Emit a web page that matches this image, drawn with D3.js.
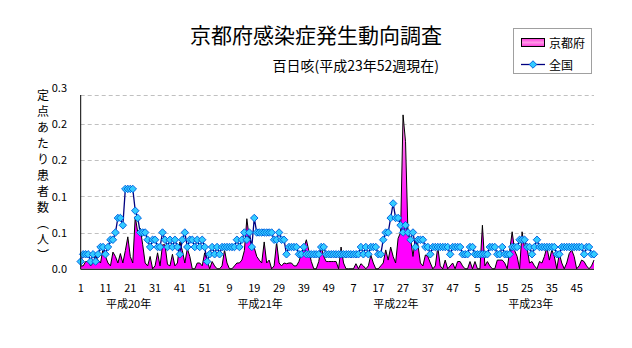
<!DOCTYPE html>
<html><head><meta charset="utf-8">
<script src="https://cdn.jsdelivr.net/npm/d3@7"></script>
<style>
body{margin:0;background:#fff}
svg{display:block}
text{font-family:"Noto Sans CJK JP","Noto Sans",sans-serif;fill:#000}
</style>
</head><body>
<svg id="chart" width="632" height="348"></svg>
<script>
// ---- data ----
const years = ["平成20年","平成21年","平成22年","平成23年"];
const weeksPerYear = [52,52,52,52];
const yearLabelWeek = [20.3, 21.4, 24.1, 26.5];
const yTicks = [0, 0.05, 0.10, 0.15, 0.20, 0.25];
const yTickLabels = ["0.0","0.1","0.1","0.2","0.2","0.3"];
const yPlotMax = 0.239;
const seriesNames = ["京都府","全国"];

const kyoto2008 = [0.004,0.004,0.01,0.01,0.004,0.008,0.017,0.012,0.008,0.028,0.017,0.008,0.004,0.023,0.017,0.008,0.021,0.008,0.025,0.044,0.017,0.008,0.072,0.05,0.056,0.033,0.008,0.004,0.017,0,0.004,0.022,0.004,0.033,0.033,0.006,0.004,0.02,0.004,0.008,0.037,0.025,0.008,0.028,0.017,0,0,0.008,0.008,0.004,0.022,0.012];
const kyoto2009 = [0,0.01,0.004,0,0,0.004,0.026,0.008,0,0,0.004,0.008,0.008,0.012,0.025,0.069,0.042,0.033,0.029,0.017,0.012,0.008,0.037,0.008,0.012,0,0.004,0.037,0.008,0.004,0.008,0.007,0.008,0.008,0.004,0.004,0.01,0.021,0.029,0.04,0.025,0.01,0,0,0.01,0.03,0.017,0.01,0.01,0.01,0.01,0.01];
const kyoto2010 = [0,0.03,0.008,0,0,0,0,0.007,0,0.007,0.004,0,0.004,0.019,0.008,0,0,0.004,0.008,0.026,0.012,0.03,0.017,0.008,0.042,0.05,0.212,0.175,0.046,0.042,0.017,0.042,0.033,0.008,0.004,0.019,0.017,0.008,0,0.004,0.03,0.004,0,0.012,0,0.004,0.008,0,0.01,0.01,0.004,0];
const kyoto2011 = [0,0.01,0,0.01,0,0,0.06,0.004,0.01,0.004,0,0,0.012,0.012,0.012,0.008,0,0.025,0.051,0.025,0.017,0,0.051,0.029,0.029,0.008,0.01,0.004,0,0.01,0.008,0.017,0.03,0.012,0.026,0.017,0,0.021,0.008,0,0.008,0.021,0.026,0.017,0,0.004,0.012,0.01,0.004,0,0.004,0.012];

const national2008 = [0.01,0.02,0.02,0.02,0.01,0.02,0.01,0.02,0.03,0.03,0.02,0.03,0.04,0.04,0.05,0.07,0.07,0.06,0.11,0.11,0.11,0.11,0.08,0.07,0.05,0.05,0.05,0.04,0.03,0.04,0.04,0.03,0.03,0.05,0.04,0.03,0.04,0.03,0.04,0.03,0.02,0.04,0.05,0.03,0.04,0.04,0.03,0.04,0.03,0.04,0.03,0.01];
const national2009 = [0.02,0.03,0.02,0.03,0.02,0.03,0.03,0.03,0.03,0.03,0.03,0.04,0.03,0.04,0.05,0.04,0.05,0.03,0.07,0.05,0.05,0.05,0.05,0.05,0.05,0.05,0.04,0.04,0.05,0.04,0.04,0.02,0.03,0.03,0.03,0.03,0.02,0.02,0.03,0.02,0.02,0.02,0.02,0.02,0.02,0.03,0.03,0.02,0.02,0.02,0.02,0.02];
const national2010 = [0.02,0.02,0.02,0.02,0.02,0.02,0.02,0.02,0.02,0.03,0.02,0.03,0.02,0.03,0.03,0.03,0.02,0.02,0.04,0.05,0.05,0.07,0.09,0.07,0.07,0.06,0.05,0.06,0.05,0.04,0.05,0.03,0.04,0.04,0.04,0.03,0.03,0.02,0.03,0.03,0.03,0.03,0.03,0.03,0.03,0.02,0.03,0.03,0.03,0.03,0.02,0.02];
const national2011 = [0.02,0.03,0.03,0.02,0.02,0.02,0.02,0.02,0.02,0.03,0.03,0.03,0.02,0.02,0.03,0.02,0.02,0.02,0.03,0.03,0.03,0.04,0.04,0.04,0.03,0.03,0.02,0.03,0.04,0.03,0.03,0.03,0.03,0.03,0.03,0.03,0.02,0.02,0.03,0.03,0.03,0.03,0.03,0.03,0.03,0.03,0.03,0.02,0.03,0.03,0.02,0.02];

// ---- build rows ----
const kyoto = [].concat(kyoto2008, kyoto2009, kyoto2010, kyoto2011);
const national = [].concat(national2008, national2009, national2010, national2011);
const rows = [];
weeksPerYear.forEach((n, yi) => {
  for (let w = 1; w <= n; w++) rows.push({year: yi, week: w});
});
rows.forEach((r, i) => { r.i = i; r.kyoto = kyoto[i]; r.national = national[i]; });

const svg = d3.select("#chart");
const x = d3.scaleLinear().domain([0, rows.length - 1]).range([80.7, 594]);
const y = d3.scaleLinear().domain([0, 0.25]).range([268.8, 87.3]);

// gradient for area
const defs = svg.append("defs");
const grad = defs.append("linearGradient").attr("id","pinkGrad")
  .attr("gradientUnits","userSpaceOnUse").attr("x1",0).attr("x2",0)
  .attr("y1", y(0.22)).attr("y2", y(0.07));
grad.append("stop").attr("offset","0%").attr("stop-color","#ff99e6");
grad.append("stop").attr("offset","100%").attr("stop-color","#ff00ff");
const lg = defs.append("linearGradient").attr("id","legGrad").attr("x1",0).attr("x2",0).attr("y1",0).attr("y2",1);
lg.append("stop").attr("offset","0%").attr("stop-color","#ff33dd");
lg.append("stop").attr("offset","50%").attr("stop-color","#ff99e6");
lg.append("stop").attr("offset","100%").attr("stop-color","#ff33dd");

// gridlines
const gridVals = yTicks.filter(t => t > 0 && t < yPlotMax).concat([yPlotMax]);
svg.append("g").selectAll("line").data(gridVals).join("line")
  .attr("x1", x(0)).attr("x2", x(rows.length - 1))
  .attr("y1", d => Math.round(y(d)) + 0.5).attr("y2", d => Math.round(y(d)) + 0.5)
  .attr("stroke","#c0c0c0").attr("stroke-dasharray","4,3");

// kyoto area
svg.append("path").datum(rows)
  .attr("fill","url(#pinkGrad)")
  .attr("d", d3.area().x(d => x(d.i)).y0(y(0)).y1(d => y(d.kyoto)));
svg.append("path").datum(rows)
  .attr("fill","none").attr("stroke","#000").attr("stroke-width",1)
  .attr("d", d3.line().x(d => x(d.i)).y(d => y(d.kyoto)));

// national line
svg.append("path").datum(rows)
  .attr("fill","none").attr("stroke","#000080").attr("stroke-width",1.3)
  .attr("d", d3.line().x(d => x(d.i)).y(d => y(d.national)));
const diamond = d3.symbol(d3.symbolSquare, 28);
svg.append("g").selectAll("path").data(rows).join("path")
  .attr("d", diamond)
  .attr("transform", d => `translate(${x(d.i)},${y(d.national)}) rotate(45)`)
  .attr("fill","#33ccff").attr("stroke","#0060e0").attr("stroke-width",0.9);

// axes
svg.append("line").attr("x1", x(0)).attr("x2", x(0)).attr("y1", Math.round(y(yPlotMax))).attr("y2", y(0) + 0.5)
  .attr("stroke","#000");
svg.append("line").attr("x1", x(0)).attr("x2", x(rows.length - 1)).attr("y1", y(0) + 0.5).attr("y2", y(0) + 0.5)
  .attr("stroke","#000");

svg.append("g").selectAll("text").data(yTicks).join("text")
  .attr("x", 67).attr("y", d => y(d) + 4.5)
  .attr("text-anchor","end").attr("font-size", 11)
  .text((d, i) => yTickLabels[i]);

svg.append("g").selectAll("text").data(rows.filter(r => r.i % 10 === 0)).join("text")
  .attr("x", d => x(d.i)).attr("y", 292)
  .attr("text-anchor","middle").attr("font-size", 11)
  .text(d => d.week);

svg.append("g").selectAll("text").data(years).join("text")
  .attr("x", (d, i) => x(d3.sum(weeksPerYear.slice(0, i)) + yearLabelWeek[i] - 1))
  .attr("y", 308).attr("text-anchor","middle").attr("font-size", 11)
  .text(d => d);

// y axis title (vertical)
svg.append("text")
  .attr("x", 43).attr("y", 89)
  .attr("font-size", 12)
  .style("writing-mode","vertical-rl")
  .style("letter-spacing","4px")
  .text("定点あたり患者数（人）");

// titles
svg.append("text").attr("x", 316).attr("y", 43).attr("text-anchor","middle")
  .attr("font-size", 21).text("京都府感染症発生動向調査");
svg.append("text").attr("x", 439).attr("y", 71).attr("text-anchor","end")
  .attr("font-size", 14).text("百日咳(平成23年52週現在)");

// legend
const leg = svg.append("g");
leg.append("rect").attr("x", 513.5).attr("y", 28.5).attr("width", 78).attr("height", 45)
  .attr("fill","#fff").attr("stroke","#a0a0a0");
leg.append("rect").attr("x", 521.5).attr("y", 38.5).attr("width", 23).attr("height", 8)
  .attr("fill","url(#legGrad)").attr("stroke","#000");
leg.append("line").attr("x1", 521).attr("x2", 545).attr("y1", 64.5).attr("y2", 64.5)
  .attr("stroke","#000080").attr("stroke-width",1.3);
leg.append("path").attr("d", diamond).attr("transform","translate(533,64.5) rotate(45)")
  .attr("fill","#33ccff").attr("stroke","#0060e0").attr("stroke-width",0.9);
leg.selectAll("text.l").data(seriesNames).join("text").attr("class","l")
  .attr("x", 549).attr("y", (d, i) => 48 + i * 22).attr("font-size", 12)
  .text(d => d);
</script>
</body></html>
